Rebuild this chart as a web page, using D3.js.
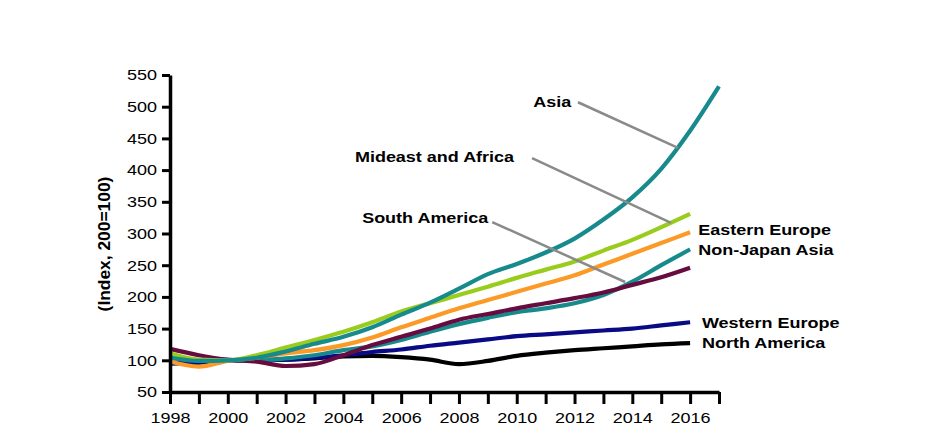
<!DOCTYPE html>
<html><head><meta charset="utf-8">
<script src="https://cdn.jsdelivr.net/npm/d3@7"></script>
<style>html,body{margin:0;padding:0;background:#fff;} svg{display:block;}</style>
</head><body><svg id="chart" width="937" height="439"></svg>
<script>
// ---- data ----
const years = [1998,1999,2000,2001,2002,2003,2004,2005,2006,2007,2008,2009,2010,2011,2012,2013,2014,2015,2016];
const asiaYears = [1998,1999,2000,2001,2002,2003,2004,2005,2006,2007,2008,2009,2010,2011,2012,2013,2014,2015,2016,2017];
const asia          = [104,99,100,104,114,126,137,152,172,191,213,236,252,270,292,322,357,402,462,532];
const easternEurope = [111,101,100,108,120,132,145,160,177,190,203,216,230,243,256,273,290,310,331];
const mideastAfrica = [98,90,99,104,111,116,124,136,152,167,182,195,208,221,234,251,268,285,302];
const nonJapanAsia  = [105,100,100,100,103,108,116,122,132,145,157,167,176,182,190,203,224,250,275];
const southAmerica  = [118,108,101,98,91,94,108,124,137,150,164,173,182,190,198,207,219,231,246];
const westernEurope = [95,96,100,101,101,104,108,113,117,123,128,133,138,141,144,147,150,155,160];
const northAmerica  = [95,98,100,100,101,103,106,107,105,101,94,99,107,112,116,119,122,125,127];

const yTicks = [50,100,150,200,250,300,350,400,450,500,550];
const xTicks = [1998,1999,2000,2001,2002,2003,2004,2005,2006,2007,2008,2009,2010,2011,2012,2013,2014,2015,2016,2017];
const xTickLabels = [1998,2000,2002,2004,2006,2008,2010,2012,2014,2016];
const yTitle = "(Index, 200=100)";

const labelNames  = ["Asia","Mideast and Africa","South America","Eastern Europe","Non-Japan Asia","Western Europe","North America"];
const labelYears  = [2010.57,2004.4,2004.65,2016.28,2016.28,2016.41,2016.41];
const labelValues = [499.5,413,316.6,297.6,266,151,119.4];
const leaderFrom  = [[2012.12,507],[2010.53,419],[2009.15,318]];
const leaderTo    = [[2015.58,435],[2015.34,316.6],[2013.75,223.5]];

// ---- chart ----
const svg = d3.select("#chart");
const x = d3.scaleLinear().domain([1998,2017]).range([170,719]);
const y = d3.scaleLinear().domain([50,550]).range([392,75]);
const FONT = "'Liberation Sans', Arial, Helvetica, sans-serif";

const series = [
  {vals: northAmerica, yrs: years, color: "#000000"},
  {vals: westernEurope, yrs: years, color: "#0a0a86"},
  {vals: nonJapanAsia, yrs: years, color: "#178a8c"},
  {vals: southAmerica, yrs: years, color: "#660c3e"},
  {vals: mideastAfrica, yrs: years, color: "#fb9a26"},
  {vals: easternEurope, yrs: years, color: "#99cc1c"},
  {vals: asia, yrs: asiaYears, color: "#168a8c"}
];

const line = d3.line().x(d => x(d[0])).y(d => y(d[1])).curve(d3.curveMonotoneX);
series.forEach(s => {
  svg.append("path")
    .datum(s.yrs.map((yr, i) => [yr, s.vals[i]]))
    .attr("d", line)
    .attr("fill", "none")
    .attr("stroke", s.color)
    .attr("stroke-width", 4.2)
    .attr("stroke-linejoin", "round");
});

// axes
const yAxis = svg.append("g").attr("transform", "translate(170,0)")
  .call(d3.axisLeft(y).tickValues(yTicks).tickSize(8).tickSizeOuter(0).tickPadding(5));
yAxis.select(".domain").attr("stroke", "#000").attr("stroke-width", 3.5);
yAxis.selectAll(".tick line").attr("stroke", "#000").attr("stroke-width", 3);
yAxis.selectAll("text").each(function(){
  const t = d3.select(this); const tx = +t.attr("x");
  t.attr("x", 0).attr("transform", `translate(${tx},0) scale(1.2,1)`);
}).attr("font-family", FONT).attr("font-size", 15).attr("fill", "#000");

const xAxis = svg.append("g").attr("transform", "translate(0,392)")
  .call(d3.axisBottom(x).tickValues(xTicks).tickSize(12).tickSizeOuter(0).tickPadding(8)
    .tickFormat(d => xTickLabels.includes(d) ? String(d) : ""));
xAxis.select(".domain").attr("stroke", "#000").attr("stroke-width", 3.5);
xAxis.selectAll(".tick line").attr("stroke", "#000").attr("stroke-width", 3);
xAxis.selectAll("text").attr("transform", "scale(1.2,1)")
  .attr("font-family", FONT).attr("font-size", 15).attr("fill", "#000");

svg.append("text")
  .attr("transform", "translate(110,244) rotate(-90) scale(1.16,1.15)")
  .attr("text-anchor", "middle")
  .attr("font-family", FONT).attr("font-size", 15).attr("font-weight", "bold")
  .text(yTitle);

// leader lines
leaderFrom.forEach((f, i) => {
  svg.append("line")
    .attr("x1", x(f[0])).attr("y1", y(f[1]))
    .attr("x2", x(leaderTo[i][0])).attr("y2", y(leaderTo[i][1]))
    .attr("stroke", "#8a8a8a").attr("stroke-width", 2.5);
});

// labels
labelNames.forEach((n, i) => {
  svg.append("text")
    .attr("transform", `translate(${x(labelYears[i])},${y(labelValues[i])}) scale(1.2,1)`)
    .attr("font-family", FONT).attr("font-size", 15).attr("font-weight", "bold")
    .attr("fill", "#000")
    .text(n);
});
</script></body></html>
